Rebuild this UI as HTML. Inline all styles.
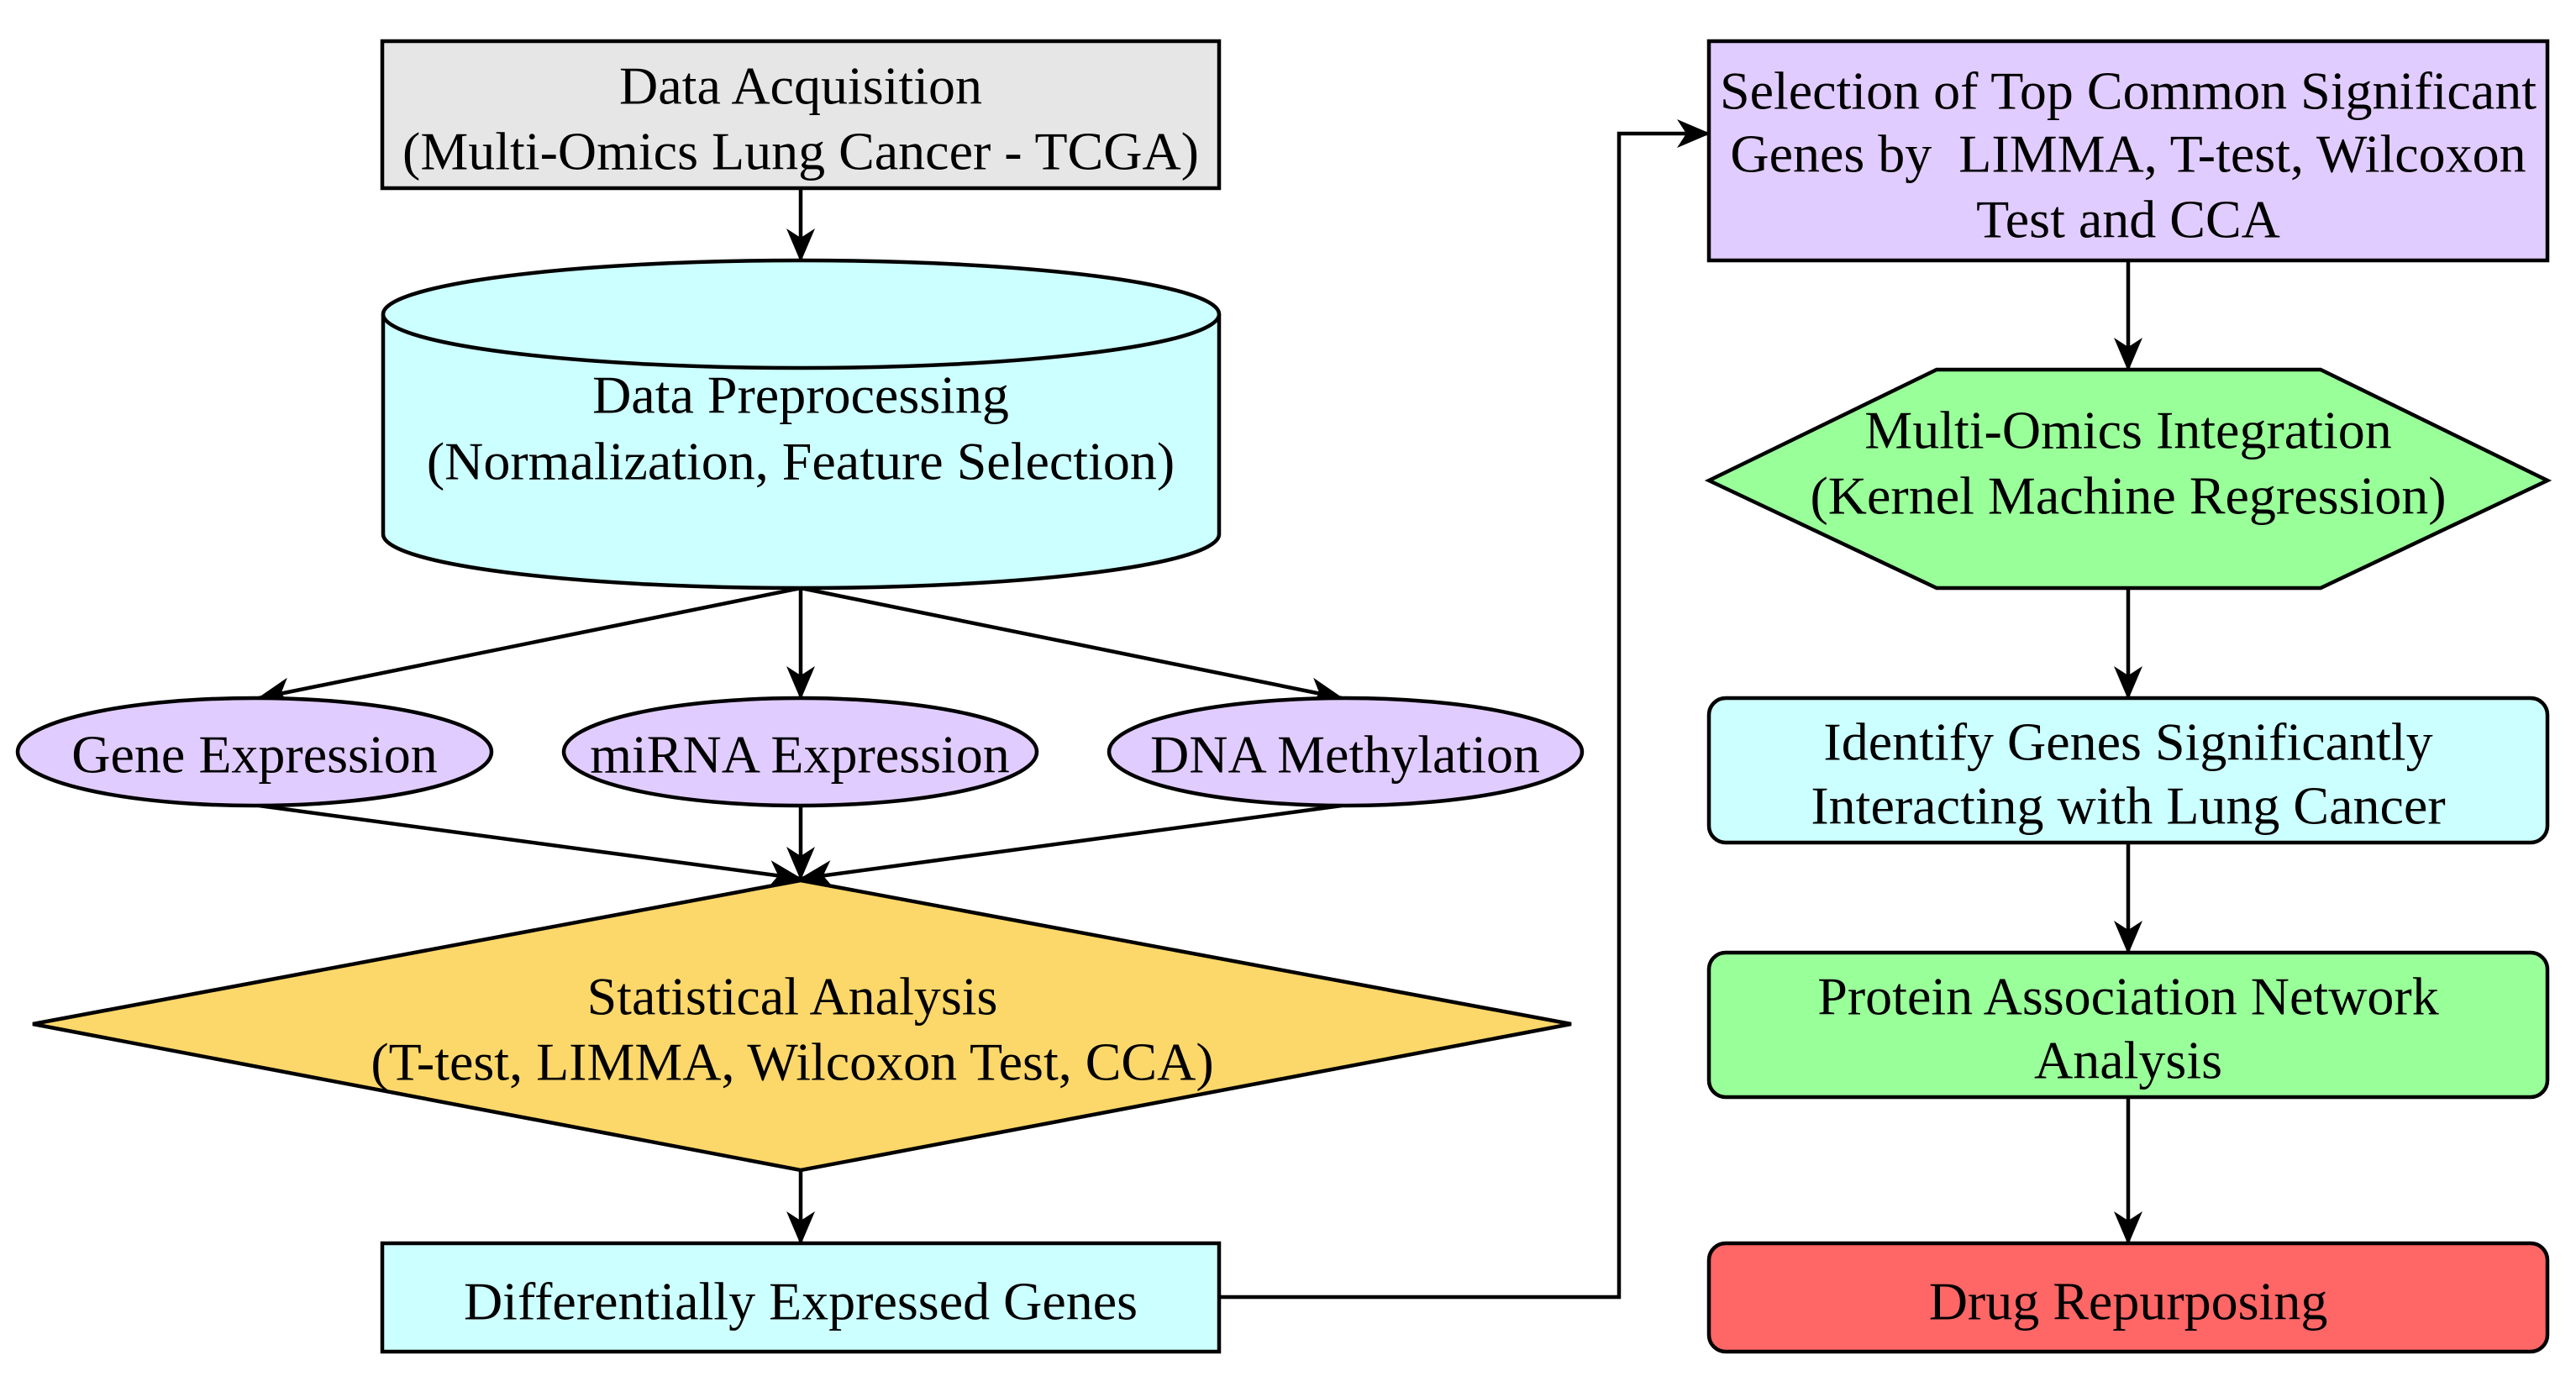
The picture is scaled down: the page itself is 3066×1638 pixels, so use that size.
<!DOCTYPE html>
<html><head><meta charset="utf-8"><style>
html,body{margin:0;padding:0;background:#fff;}
svg{display:block;}
text{font-family:"Liberation Serif",serif;font-size:64px;fill:#000;text-anchor:middle;dominant-baseline:central;}
</style></head><body>
<svg width="3066" height="1638" viewBox="0 0 3066 1638" xmlns="http://www.w3.org/2000/svg">
<defs>
<marker id="a" viewBox="0 0 40 34" refX="38" refY="17" markerWidth="40" markerHeight="34" markerUnits="userSpaceOnUse" orient="auto">
<path d="M0,0 L40,17 L0,34 L11,17 z" fill="#000"/>
</marker>
</defs>
<g stroke="#000" stroke-width="4.5" fill="none">
<path d="M953,224 V310" marker-end="url(#a)"/>
<path d="M953,700 L308,831" marker-end="url(#a)"/>
<path d="M953,700 V831" marker-end="url(#a)"/>
<path d="M953,700 L1597,831" marker-end="url(#a)"/>
<path d="M308,959 L953,1046" marker-end="url(#a)"/>
<path d="M953,959 V1046" marker-end="url(#a)"/>
<path d="M1597,959 L953,1046" marker-end="url(#a)"/>
<path d="M953,1393 V1480" marker-end="url(#a)"/>
<path d="M1451,1544 H1927 V159 H2034" marker-end="url(#a)"/>
<path d="M2533,310 V440" marker-end="url(#a)"/>
<path d="M2533,700 V831" marker-end="url(#a)"/>
<path d="M2533,1003 V1134" marker-end="url(#a)"/>
<path d="M2533,1306 V1480" marker-end="url(#a)"/>
</g>
<g stroke="#000" stroke-width="4.5">
<rect x="455" y="49" width="996" height="175" fill="#e6e6e6"/>
<path d="M456,374 V636 A497.5,64 0 0 0 1451,636 V374" fill="#ccffff"/>
<ellipse cx="953.5" cy="374" rx="497.5" ry="64" fill="#ccffff"/>
<ellipse cx="303" cy="895" rx="282" ry="64" fill="#e1ccff"/>
<ellipse cx="952.5" cy="895" rx="281.5" ry="64" fill="#e1ccff"/>
<ellipse cx="1601.5" cy="895" rx="281.5" ry="64" fill="#e1ccff"/>
<polygon points="39,1219 953,1048 1870,1219 953,1393" fill="#fcd76a"/>
<rect x="455" y="1480" width="996" height="129" fill="#ccffff"/>
<rect x="2034" y="49" width="998" height="261" fill="#e1ccff"/>
<polygon points="2034,572 2305,440 2762,440 3032,572 2762,700 2305,700" fill="#99ff99"/>
<rect x="2034" y="831" width="998" height="172" rx="20" fill="#ccffff"/>
<rect x="2034" y="1134" width="998" height="172" rx="20" fill="#99ff99"/>
<rect x="2034" y="1480" width="998" height="129" rx="20" fill="#ff6666"/>
</g>
<text x="953" y="102">Data Acquisition</text>
<text x="953" y="180">(Multi-Omics Lung Cancer - TCGA)</text>
<text x="953" y="470">Data Preprocessing</text>
<text x="953" y="549">(Normalization, Feature Selection)</text>
<text x="303" y="898">Gene Expression</text>
<text x="952" y="898">miRNA Expression</text>
<text x="1601" y="898">DNA Methylation</text>
<text x="943" y="1186">Statistical Analysis</text>
<text x="943" y="1264">(T-test, LIMMA, Wilcoxon Test, CCA)</text>
<text x="953" y="1549">Differentially Expressed Genes</text>
<text x="2533" y="108">Selection of Top Common Significant</text>
<text x="2533" y="183">Genes by&#160; LIMMA, T-test, Wilcoxon</text>
<text x="2533" y="261">Test and CCA</text>
<text x="2533" y="512">Multi-Omics Integration</text>
<text x="2533" y="590">(Kernel Machine Regression)</text>
<text x="2533" y="883">Identify Genes Significantly</text>
<text x="2533" y="959">Interacting with Lung Cancer</text>
<text x="2533" y="1186">Protein Association Network</text>
<text x="2533" y="1262">Analysis</text>
<text x="2533" y="1549">Drug Repurposing</text>
</svg>
</body></html>
